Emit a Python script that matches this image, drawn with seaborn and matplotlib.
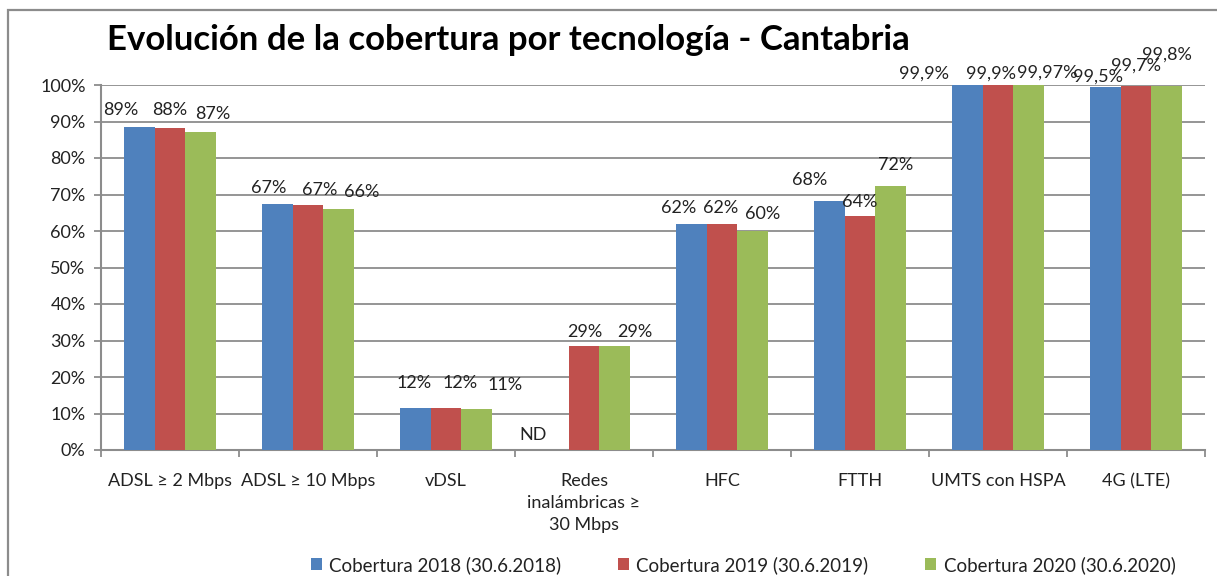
import numpy as np
import pandas as pd
import matplotlib.pyplot as plt
from matplotlib.patches import Rectangle
from matplotlib.ticker import FuncFormatter, FixedLocator
import seaborn as sns

# categories and values (% coverage)
categories = ["ADSL ≥ 2 Mbps", "ADSL ≥ 10 Mbps", "vDSL", "Redes\ninalámbricas ≥\n30 Mbps",
              "HFC", "FTTH", "UMTS con HSPA", "4G (LTE)"]
series_names = ["Cobertura 2018 (30.6.2018)", "Cobertura 2019 (30.6.2019)",
                "Cobertura 2020 (30.6.2020)"]
cov_2018 = [88.5, 67.4, 11.6, 0.0, 62.0, 68.1, 99.9, 99.5]
cov_2019 = [88.2, 67.1, 11.6, 28.6, 62.0, 64.2, 99.9, 99.7]
cov_2020 = [87.1, 66.0, 11.3, 28.6, 59.9, 72.3, 99.97, 99.8]

labels_2018 = ["89%", "67%", "12%", "ND", "62%", "68%", "99,9%", "99,5%"]
labels_2019 = ["88%", "67%", "12%", "29%", "62%", "64%", "99,9%", "99,7%"]
labels_2020 = ["87%", "66%", "11%", "29%", "60%", "72%", "99,97%", "99,8%"]

# label offsets in pixels (dx, dy) from the bar top, as placed in the original
offsets_2018 = [(-18, 17), (-8, 16), (-1, 25), (-20, 15), (-13, 16), (-20, 21), (-43, 12), (-7, 10)]
offsets_2019 = [(0, 18), (12, 15), (14, 25), (1, 14), (-1, 16), (0, 14), (-7, 12), (0, 20)]
offsets_2020 = [(12, 18), (23, 17), (28, 24), (20, 14), (10, 17), (5, 21), (18, 12), (0, 31)]

colors = ["#4F81BD", "#C0504D", "#9BBB59"]
grid_col = "#8C8C8C"

sns.set_style("white")
plt.rcParams['font.family'] = ['Lato', 'DejaVu Sans']

df = pd.DataFrame({
    "tech": categories * 3,
    "value": cov_2018 + cov_2019 + cov_2020,
    "year": [series_names[0]] * 8 + [series_names[1]] * 8 + [series_names[2]] * 8,
})

fig = plt.figure(figsize=(12.17, 5.76), dpi=100)
ax = fig.add_axes([101 / 1217, 1 - 450 / 576, (1205 - 101) / 1217, 365 / 576])

sns.barplot(data=df, x="tech", y="value", hue="year", palette=colors, width=0.67,
            saturation=1, linewidth=0, ax=ax, zorder=3)

ax.set_ylim(0, 100)
ax.set_xlim(-0.5, 7.5)
ax.set_xlabel("")
ax.set_ylabel("")
ax.yaxis.set_major_locator(FixedLocator(np.arange(0, 101, 10)))
ax.yaxis.set_major_formatter(FuncFormatter(lambda v, p: f"{v:.0f}%"))
ax.yaxis.grid(True, color=grid_col, linewidth=1.3, zorder=0)
ax.set_axisbelow(True)
for s in ["top", "right"]:
    ax.spines[s].set_visible(False)
for s in ["left", "bottom"]:
    ax.spines[s].set_color(grid_col)
    ax.spines[s].set_linewidth(1.5)

ax.tick_params(axis="y", which="major", left=True, length=5, width=1.3, color=grid_col,
               pad=6, labelsize=13, labelcolor="#222222")
ax.tick_params(axis="x", which="major", bottom=False, pad=13, labelsize=13, labelcolor="#222222")
ax.set_xticks(np.arange(-0.5, 8, 1), minor=True)
ax.tick_params(axis="x", which="minor", bottom=True, length=5, width=1.3, color=grid_col)
for t in ax.get_xticklabels():
    t.set_linespacing(1.45)

# data labels
all_labels = [labels_2018, labels_2019, labels_2020]
all_offsets = [offsets_2018, offsets_2019, offsets_2020]
for cont, labs, offs in zip(ax.containers, all_labels, all_offsets):
    for bar, lab, (dx, dy) in zip(cont, labs, offs):
        x = bar.get_x() + bar.get_width() / 2
        ax.annotate(lab, xy=(x, bar.get_height()), xytext=(dx, dy),
                    textcoords="offset pixels", ha="center", va="center",
                    fontsize=13, color="#222222", annotation_clip=False, zorder=5)

# legend at the bottom
handles, labels = ax.get_legend_handles_labels()
if ax.get_legend() is not None:
    ax.get_legend().remove()
fig.legend(handles, labels, loc="center", bbox_to_anchor=(743 / 1217, 1 - 565 / 576),
           ncol=3, frameon=False, fontsize=13.5, handlelength=0.6, handleheight=0.6,
           handletextpad=0.4, columnspacing=3.0, labelcolor="#222222")

fig.text(107 / 1217, 1 - 40 / 576, "Evolución de la cobertura por tecnología - Cantabria",
         ha="left", va="center", fontsize=25, fontweight="bold", color="black")

# outer chart frame (cut off at right and bottom in the original)
fig.patches.append(Rectangle((8 / 1217, -0.2), 1.2, 1.2 - 10 / 576,
                             transform=fig.transFigure, fill=False,
                             edgecolor="#8C8C8C", linewidth=1.6))

fig.savefig("out.png", dpi=100)
